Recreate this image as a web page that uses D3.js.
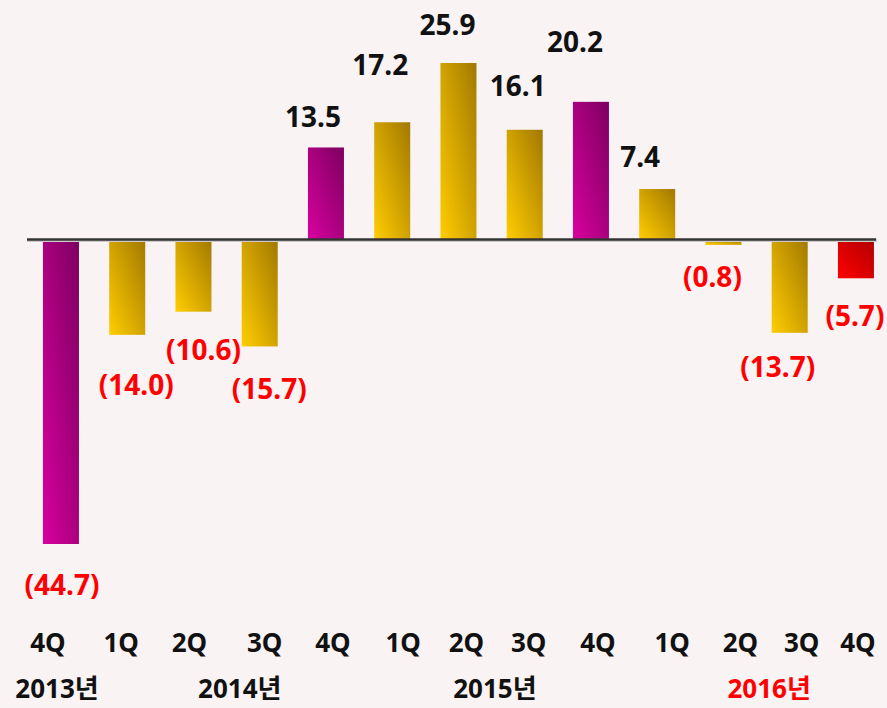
<!DOCTYPE html>
<html>
<head>
<meta charset="utf-8">
<script src="https://cdn.jsdelivr.net/npm/d3@7"></script>
<style>
  html, body { margin: 0; padding: 0; background: #f9f3f3; }
  svg { display: block; }
  text { font-family: "Noto Sans", "Noto Sans CJK KR", sans-serif; font-weight: bold; }
</style>
</head>
<body>
<div id="chart"></div>
<script>
// quarters (x categories)
const quarters = ["4Q", "1Q", "2Q", "3Q", "4Q", "1Q", "2Q", "3Q", "4Q", "1Q", "2Q", "3Q", "4Q"];
const values = [-44.7, -14.0, -10.6, -15.7, 13.5, 17.2, 25.9, 16.1, 20.2, 7.4, -0.8, -13.7, -5.7];
// colour kind per bar: m = magenta (4Q), g = gold, r = red (latest)
const kinds = ["m", "g", "g", "g", "m", "g", "g", "g", "m", "g", "g", "g", "r"];
const years = ["2013년", "2014년", "2015년", "2016년"];
const yearAt = [-0.06, 2.7, 6.55, 10.69]; // bar index under which the year sits

// hand-placement tweaks for labels (as in the original slide)
const valueDx = [1, 9, 10, 9.5, -13, -12, -11, -7, -16, -17, -11, -12, -1];
const valueDy = [51, 60, 48, 53, -20, -47, -28, -34, -50, -22, 42, 44, 48];
const tickDx = [-13, -6, -4, 5, 7, 11, 8, 4, 7, 15, 17, 12, 2];

const width = 887, height = 708;

const svg = d3.select("#chart").append("svg")
    .attr("width", width)
    .attr("height", height);

svg.append("rect").attr("width", width).attr("height", height).attr("fill", "#f9f3f3");

const defs = svg.append("defs");
const grads = {
    m: ["#d8009f", "#7d0060"],
    g: ["#ffcd00", "#a27800"],
    r: ["#ff0000", "#b00000"]
};
Object.entries(grads).forEach(([k, c]) => {
    const g = defs.append("linearGradient")
        .attr("id", "grad-" + k)
        .attr("x1", "0%").attr("y1", "100%")
        .attr("x2", "100%").attr("y2", "0%");
    g.append("stop").attr("offset", "0%").attr("stop-color", c[0]);
    g.append("stop").attr("offset", "100%").attr("stop-color", c[1]);
});

const x = d3.scaleBand()
    .domain(d3.range(values.length))
    .range([26.4, 890.5])
    .paddingInner(0.4566)
    .paddingOuter(0.25);

const y = d3.scaleLinear()
    .domain([-44.7, 25.9])
    .range([544, 63]);

// bars
svg.selectAll("rect.bar")
    .data(values)
    .join("rect")
    .attr("class", "bar")
    .attr("x", (d, i) => x(i))
    .attr("width", x.bandwidth())
    .attr("y", d => y(Math.max(0, d)))
    .attr("height", d => Math.abs(y(d) - y(0)))
    .attr("fill", (d, i) => `url(#grad-${kinds[i]})`);

// zero line
svg.append("line")
    .attr("x1", 27).attr("x2", 877)
    .attr("y1", y(0) + 1).attr("y2", y(0) + 1)
    .attr("stroke", "#cfcaca").attr("stroke-width", 3);
svg.append("line")
    .attr("x1", 27).attr("x2", 876)
    .attr("y1", y(0)).attr("y2", y(0))
    .attr("stroke", "#333").attr("stroke-width", 2.5);

// value labels
const fmt = d => d < 0 ? `(${Math.abs(d).toFixed(1)})` : d.toFixed(1);
svg.selectAll("text.val")
    .data(values)
    .join("text")
    .attr("class", "val")
    .attr("x", (d, i) => x(i) + x.bandwidth() / 2 + valueDx[i])
    .attr("y", (d, i) => y(d) + valueDy[i])
    .attr("text-anchor", "middle")
    .attr("font-size", 28)
    .attr("fill", d => d < 0 ? "#ff0000" : "#111")
    .text(fmt);

// quarter labels
svg.selectAll("text.q")
    .data(quarters)
    .join("text")
    .attr("class", "q")
    .attr("x", (d, i) => x(i) + x.bandwidth() / 2 + tickDx[i])
    .attr("y", 652)
    .attr("text-anchor", "middle")
    .attr("font-size", 26)
    .attr("fill", "#111")
    .text(d => d);

// year labels
svg.selectAll("text.yr")
    .data(years)
    .join("text")
    .attr("class", "yr")
    .attr("text-anchor", "middle")
    .attr("x", (d, i) => x(0) + x.bandwidth() / 2 + yearAt[i] * x.step())
    .attr("y", 698)
    .attr("font-size", 26)
    .attr("fill", (d, i) => i === years.length - 1 ? "#ff0000" : "#111")
    .text(d => d);
</script>
</body>
</html>
